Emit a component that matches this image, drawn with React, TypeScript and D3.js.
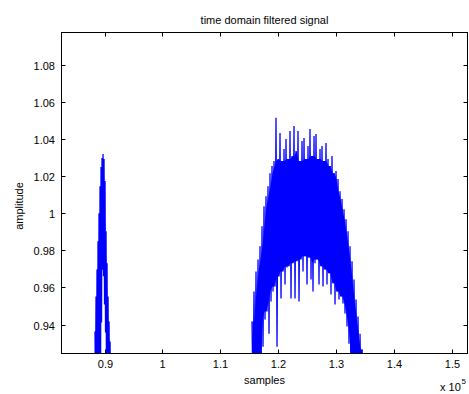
import React from "react";
import * as d3 from "d3";

const W = 469;
const H = 394;

const titleText = "time domain filtered signal";
const xLabelText = "samples";
const yLabelText = "amplitude";

const xTicks = [90000, 100000, 110000, 120000, 130000, 140000, 150000];
const xTickLabels = ["0.9", "1", "1.1", "1.2", "1.3", "1.4", "1.5"];
const yTicks = [0.94, 0.96, 0.98, 1, 1.02, 1.04, 1.06, 1.08];
const yTickLabels = ["0.94", "0.96", "0.98", "1", "1.02", "1.04", "1.06", "1.08"];

const xDomain = [82580, 152620];
const yDomain = [0.9244, 1.0974];

// burst 1: local maxima / minima of the filtered signal
const burst1Start = 88361;
const burst1Step = 173;
const burst1Peaks = [
  0.9362, 0.9551, 0.9697, 0.9849, 1.0, 1.0146, 1.0249, 1.0297, 1.0319,
  1.0292, 1.0173, 0.9903, 0.973, 0.9551, 0.9416, 0.9308, 0.915,
];
const burst1Troughs = [
  0.9, 0.9, 0.9, 0.9, 0.9, 0.9, 0.9411, 0.9697, 0.966, 0.9508, 0.9357,
  0.9, 0.9, 0.9, 0.9, 0.9, 0.9,
];

// burst 2
const burst2Start = 115446;
const burst2Step = 345;
const burst2Peaks = [
  0.9416, 0.9578, 0.9686, 0.9751, 0.9822, 0.993, 1.0038, 1.0092, 1.0146, 1.0216, 1.0254, 1.0281,
  1.0514, 1.0292, 1.0432, 1.0281, 1.0346, 1.04, 1.0292, 1.0443, 1.0308, 1.047, 1.0335, 1.0443,
  1.0281, 1.0389, 1.0405, 1.0292, 1.0362, 1.0454, 1.0308, 1.0416, 1.0427, 1.0292, 1.0346, 1.0362,
  1.0281, 1.0378, 1.0292, 1.0254, 1.0308, 1.0216, 1.0227, 1.0184, 1.0119, 1.0076, 1.0022, 0.9968,
  0.9903, 0.9822, 0.9741, 0.9643, 0.9535, 0.9443, 0.9351, 0.9265,
];
const burst2Troughs = [
  0.9, 0.9, 0.9, 0.9, 0.9, 0.9281, 0.9427, 0.947, 0.9351, 0.9524, 0.9578, 0.9605,
  0.9281, 0.9659, 0.9541, 0.9686, 0.9616, 0.9708, 0.9714, 0.9541, 0.973, 0.9541, 0.9741, 0.9524,
  0.9751, 0.9686, 0.9768, 0.9616, 0.9762, 0.9643, 0.9578, 0.973, 0.9751, 0.9616, 0.9714, 0.9605,
  0.9697, 0.9616, 0.9676, 0.9562, 0.9622, 0.9508, 0.9578, 0.9535, 0.9551, 0.9514, 0.946, 0.9389,
  0.9297, 0.9, 0.9, 0.9, 0.9, 0.9, 0.9, 0.9,
];

const FONT = "'Liberation Sans', Arial, Helvetica, sans-serif";
const BLUE = "#0000ff";

type Pt = [number, number];

function buildSignal(start: number, step: number, peaks: number[], troughs: number[]) {
  const pts: Pt[] = [];
  peaks.forEach((p, i) => {
    pts.push([start + i * step, p]);
    pts.push([start + (i + 0.5) * step, troughs[i]]);
  });
  return pts;
}

// dense core of the oscillation: the band that every cycle crosses
function buildCore(start: number, step: number, peaks: number[], troughs: number[]) {
  const out: { s: number; top: number; bot: number }[] = [];
  peaks.forEach((_, i) => {
    const lo = Math.max(0, i - 1);
    const hi = Math.min(peaks.length - 1, i + 1);
    const top = Math.min(...peaks.slice(lo, hi + 1));
    const bot = Math.max(...troughs.slice(lo, hi + 1));
    out.push({ s: start + (i + 0.25) * step, top, bot: Math.min(bot, top) });
  });
  return out;
}

export default function App() {
  const L = 61.5, R = 467.5, T = 32.5, B = 353.5;
  const x = d3.scaleLinear().domain(xDomain).range([L, R]);
  const y = d3.scaleLinear().domain(yDomain).range([B, T]);
  const line = d3
    .line<Pt>()
    .x((d) => x(d[0]))
    .y((d) => y(d[1]));
  const area = d3
    .area<{ s: number; top: number; bot: number }>()
    .x((d) => x(d.s))
    .y0((d) => y(d.bot))
    .y1((d) => y(d.top));

  const s1 = buildSignal(burst1Start, burst1Step, burst1Peaks, burst1Troughs);
  const s2 = buildSignal(burst2Start, burst2Step, burst2Peaks, burst2Troughs);
  const c1 = buildCore(burst1Start, burst1Step, burst1Peaks, burst1Troughs);
  const c2 = buildCore(burst2Start, burst2Step, burst2Peaks, burst2Troughs);
  const tickLen = 4;

  return (
    <svg
      width={W}
      height={H}
      style={{ position: "absolute", left: 0, top: 0, display: "block", background: "#fff" }}
      fontFamily={FONT}
    >
      <defs>
        <clipPath id="plotClip">
          <rect x={L} y={T} width={R - L} height={B - T} />
        </clipPath>
      </defs>
      <rect x={0} y={0} width={W} height={H} fill="#fff" />
      <g clipPath="url(#plotClip)">
        <path d={area(c1) || ""} fill={BLUE} stroke="none" />
        <path d={area(c2) || ""} fill={BLUE} stroke="none" />
        <path d={line(s1) || ""} fill="none" stroke={BLUE} strokeWidth={1.3} />
        <path d={line(s2) || ""} fill="none" stroke={BLUE} strokeWidth={1.3} />
      </g>
      <rect x={L} y={T} width={R - L} height={B - T} fill="none" stroke="#000" strokeWidth={1} />
      {xTicks.map((t, i) => {
        const px = Math.round(x(t)) + 0.5;
        return (
          <g key={"xt" + i}>
            <line x1={px} x2={px} y1={B} y2={B - tickLen} stroke="#000" />
            <line x1={px} x2={px} y1={T} y2={T + tickLen} stroke="#000" />
            <text x={px} y={368} fontSize={11} textAnchor="middle" fill="#000">
              {xTickLabels[i]}
            </text>
          </g>
        );
      })}
      {yTicks.map((t, i) => {
        const py = Math.round(y(t)) + 0.5;
        return (
          <g key={"yt" + i}>
            <line x1={L} x2={L + tickLen} y1={py} y2={py} stroke="#000" />
            <line x1={R} x2={R - tickLen} y1={py} y2={py} stroke="#000" />
            <text x={55} y={py + 4} fontSize={11} textAnchor="end" fill="#000">
              {yTickLabels[i]}
            </text>
          </g>
        );
      })}
      <text x={(L + R) / 2} y={24} fontSize={11} textAnchor="middle" fill="#000">
        {titleText}
      </text>
      <text x={(L + R) / 2} y={384} fontSize={11} textAnchor="middle" fill="#000">
        {xLabelText}
      </text>
      <text transform="translate(23,206) rotate(-90)" fontSize={11} textAnchor="middle" fill="#000">
        {yLabelText}
      </text>
      <text x={440} y={391} fontSize={11} fill="#000">
        x 10
      </text>
      <text x={461.5} y={384} fontSize={8} fill="#000">
        5
      </text>
    </svg>
  );
}
